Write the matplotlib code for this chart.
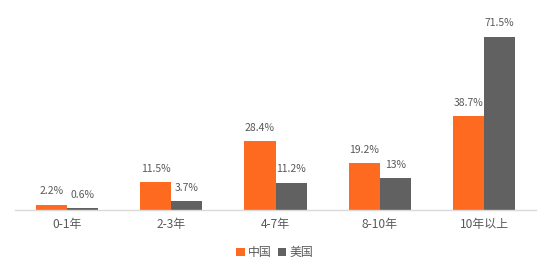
import numpy as np
import matplotlib
matplotlib.use("Agg")
import matplotlib.pyplot as plt

plt.rcParams['font.family'] = ['Noto Sans CJK SC', 'DejaVu Sans']

categories = ["0-1年", "2-3年", "4-7年", "8-10年", "10年以上"]
china = [2.2, 11.5, 28.4, 19.2, 38.7]
usa = [0.6, 3.7, 11.2, 13, 71.5]
china_labels = ["2.2%", "11.5%", "28.4%", "19.2%", "38.7%"]
usa_labels = ["0.6%", "3.7%", "11.2%", "13%", "71.5%"]

c_orange = "#FF6A21"
c_gray = "#616161"
txt = "#595959"

fig = plt.figure(figsize=(5.5, 2.73), dpi=100)
ax = fig.add_axes([0.027, 0.231, 0.948, 0.71])

x = np.arange(len(categories))
w = 0.298
b1 = ax.bar(x - w / 2, china, w, color=c_orange, label="中国")
b2 = ax.bar(x + w / 2, usa, w, color=c_gray, label="美国")

# value labels above each bar
for bars, labels in [(b1, china_labels), (b2, usa_labels)]:
    for rect, lab in zip(bars, labels):
        ax.annotate(lab, (rect.get_x() + rect.get_width() / 2, rect.get_height()),
                    xytext=(0, 6), textcoords="offset points", ha="center", va="bottom",
                    fontsize=7.5, color=txt)

ax.set_xlim(-0.5, 4.5)
ax.set_ylim(0, 80)
ax.set_xticks(x)
ax.set_xticklabels(categories, fontsize=8.6, color=txt)
ax.tick_params(axis="x", length=0, pad=6)
ax.set_yticks([])
for s in ["top", "right", "left"]:
    ax.spines[s].set_visible(False)
ax.spines["bottom"].set_color("#D9D9D9")
ax.spines["bottom"].set_linewidth(1)

fig.legend(loc="center", bbox_to_anchor=(0.5, 0.075), ncol=2, frameon=False,
           fontsize=8.6, labelcolor=txt, handlelength=0.7, handleheight=0.7,
           handletextpad=0.3, columnspacing=0.5)

fig.savefig("out.png", dpi=100)
